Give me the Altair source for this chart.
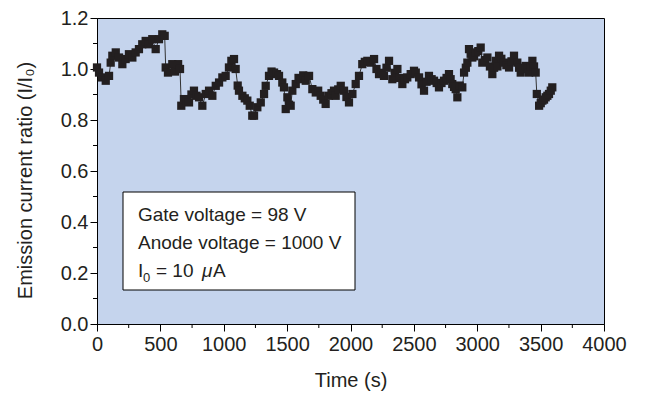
import altair as alt
import pandas as pd

# Data
time_s = [0, 16, 39, 69, 95, 108, 121, 148, 174, 200, 226, 252, 279, 305, 331, 357, 384, 410, 436, 463,
          489, 515, 534, 542, 560, 594, 615, 640, 655, 665, 686, 706, 726, 745, 765, 785, 805, 831, 858, 884,
          910, 937, 963, 989, 1015, 1041, 1060, 1081, 1094, 1110, 1120, 1147, 1166, 1186, 1205, 1225, 1239,
          1265, 1292, 1318, 1331, 1357, 1377, 1397, 1420, 1436, 1462, 1475, 1489, 1502, 1515, 1528, 1541,
          1568, 1590, 1607, 1627, 1647, 1673, 1699, 1726, 1745, 1765, 1785, 1804, 1830, 1850, 1870, 1883,
          1903, 1923, 1949, 1968, 1988, 2015, 2041, 2067, 2093, 2113, 2133, 2160, 2186, 2205, 2225, 2245,
          2264, 2284, 2304, 2330, 2350, 2370, 2390, 2409, 2430, 2448, 2475, 2501, 2515, 2541, 2560, 2580,
          2600, 2619, 2640, 2659, 2680, 2698, 2718, 2738, 2758, 2777, 2790, 2803, 2817, 2830, 2843, 2862,
          2882, 2896, 2910, 2922, 2935, 2948, 2961, 2975, 2988, 3008, 3027, 3040, 3060, 3080, 3100, 3119,
          3133, 3146, 3159, 3172, 3190, 3211, 3230, 3251, 3270, 3290, 3316, 3330, 3343, 3362, 3382, 3396,
          3409, 3422, 3435, 3448, 3461, 3470, 3488, 3501, 3514, 3527, 3540, 3553, 3566, 3580, 3592]
ratio = [1.006, 0.986, 0.967, 0.954, 0.973, 1.025, 1.052, 1.065, 1.045, 1.019, 1.039, 1.058, 1.045, 1.065,
         1.078, 1.097, 1.110, 1.097, 1.117, 1.078, 1.117, 1.136, 1.130, 1.006, 0.986, 1.019, 0.990, 1.019,
         1.000, 0.856, 0.882, 0.875, 0.869, 0.900, 0.915, 0.895, 0.889, 0.856, 0.902, 0.915, 0.895, 0.934,
         0.947, 0.967, 0.973, 1.006, 1.032, 1.039, 1.000, 0.935, 0.915, 0.895, 0.885, 0.876, 0.856, 0.817,
         0.817, 0.850, 0.869, 0.902, 0.934, 0.973, 0.990, 0.986, 0.980, 0.973, 0.947, 0.928, 0.843, 0.889,
         0.860, 0.856, 0.915, 0.941, 0.965, 0.960, 0.975, 0.954, 0.973, 0.921, 0.908, 0.915, 0.895, 0.880,
         0.863, 0.895, 0.905, 0.915, 0.895, 0.920, 0.934, 0.915, 0.890, 0.869, 0.902, 0.941, 0.973, 1.019,
         1.028, 1.032, 1.025, 1.039, 1.000, 0.980, 0.985, 0.973, 1.005, 1.032, 0.960, 0.985, 1.000, 0.965,
         0.941, 0.960, 0.967, 0.980, 0.993, 0.986, 0.967, 0.940, 0.915, 0.950, 0.973, 0.960, 0.954, 0.945,
         0.928, 0.945, 0.954, 0.965, 0.980, 0.960, 0.941, 0.930, 0.921, 0.889, 0.935, 0.928, 0.986, 1.005,
         1.025, 1.078, 1.060, 1.045, 1.050, 1.065, 1.070, 1.084, 1.025, 1.035, 1.045, 1.010, 0.980, 1.005,
         1.032, 1.010, 1.052, 1.040, 1.025, 1.015, 1.006, 1.030, 1.052, 1.025, 1.005, 0.986, 1.000, 1.012,
         1.000, 0.986, 1.010, 1.032, 1.010, 0.986, 0.902, 0.856, 0.866, 0.876, 0.880, 0.889, 0.895, 0.902,
         0.915, 0.928]

x_major = [0, 500, 1000, 1500, 2000, 2500, 3000, 3500, 4000]
x_minor = [250, 750, 1250, 1750, 2250, 2750, 3250, 3750]
y_major = [0.0, 0.2, 0.4, 0.6, 0.8, 1.0, 1.2]
y_minor = [0.1, 0.3, 0.5, 0.7, 0.9, 1.1]

note_lines = ["Gate voltage = 98 V", "Anode voltage = 1000 V"]

df = pd.DataFrame({"t": time_s, "r": ratio})

W, H = 507, 306
FONT = "Liberation Sans"
INK = "#231f20"

xs = alt.Scale(domain=[0, 4000], nice=False)
ys = alt.Scale(domain=[0, 1.2], nice=False)

x_axis = alt.Axis(values=x_major, format="d", title="Time (s)", grid=False, tickSize=7,
                  labelPadding=3, labelOverlap=False, labelFlush=False,
                  titleY=56, titleBaseline="middle")
y_axis = alt.Axis(values=y_major, format=".1f", title="Emission current ratio (I/I₀)", grid=False,
                  tickSize=7, labelPadding=2, labelOverlap=False, labelFlush=False,
                  titleX=-72, titleY=162, titleAngle=-90, titleAlign="center", titleBaseline="middle")

line = alt.Chart(df).mark_line(color="#333333", strokeWidth=1).encode(
    x=alt.X("t:Q", scale=xs, axis=x_axis),
    y=alt.Y("r:Q", scale=ys, axis=y_axis),
)
pts = alt.Chart(df).mark_point(shape="square", filled=True, size=68, color=INK, opacity=1).encode(
    x=alt.X("t:Q", scale=xs),
    y=alt.Y("r:Q", scale=ys),
)

xminor = alt.Chart(pd.DataFrame({"t": x_minor})).mark_rule(color="black", strokeWidth=1).encode(
    x=alt.X("t:Q", scale=xs), y=alt.value(H), y2=alt.value(H + 4))
yminor = alt.Chart(pd.DataFrame({"r": y_minor})).mark_rule(color="black", strokeWidth=1).encode(
    y=alt.Y("r:Q", scale=ys), x=alt.value(-4), x2=alt.value(0))

box = alt.Chart(alt.Data(values=[{}])).mark_rect(fill="white", stroke="black", strokeWidth=1).encode(
    x=alt.value(26), x2=alt.value(258), y=alt.value(174), y2=alt.value(272))

one = alt.Data(values=[{}])
def txt(s, x, y, size=19, style="normal"):
    return alt.Chart(one).mark_text(align="left", baseline="alphabetic", font=FONT, fontSize=size,
                                    fontStyle=style, color=INK).encode(
        x=alt.value(x), y=alt.value(y), text=alt.value(s))

texts = [
    txt(note_lines[0], 41, 203),
    txt(note_lines[1], 41, 231),
    txt("I", 41, 259),
    txt("0", 46, 264, size=13),
    txt("= 10", 59, 259),
    txt("μ", 105, 259, style="italic"),
    txt("A", 116, 259),
]

chart = alt.layer(line, pts, xminor, yminor, box, *texts).properties(
    width=W, height=H,
    autosize=alt.AutoSizeParams(type="none"),
    padding={"left": 89, "top": 10, "right": 35, "bottom": 69},
).configure_view(
    fill="#c5d4ed", stroke="black", strokeWidth=1
).configure_axis(
    domainColor="black", tickColor="black", labelColor=INK, titleColor=INK,
    labelFont=FONT, titleFont=FONT, labelFontSize=20, titleFontSize=20,
    titleFontWeight="normal", domainWidth=1, tickWidth=1,
)

chart.save("out.html", embed_options={"renderer": "svg", "actions": False})
